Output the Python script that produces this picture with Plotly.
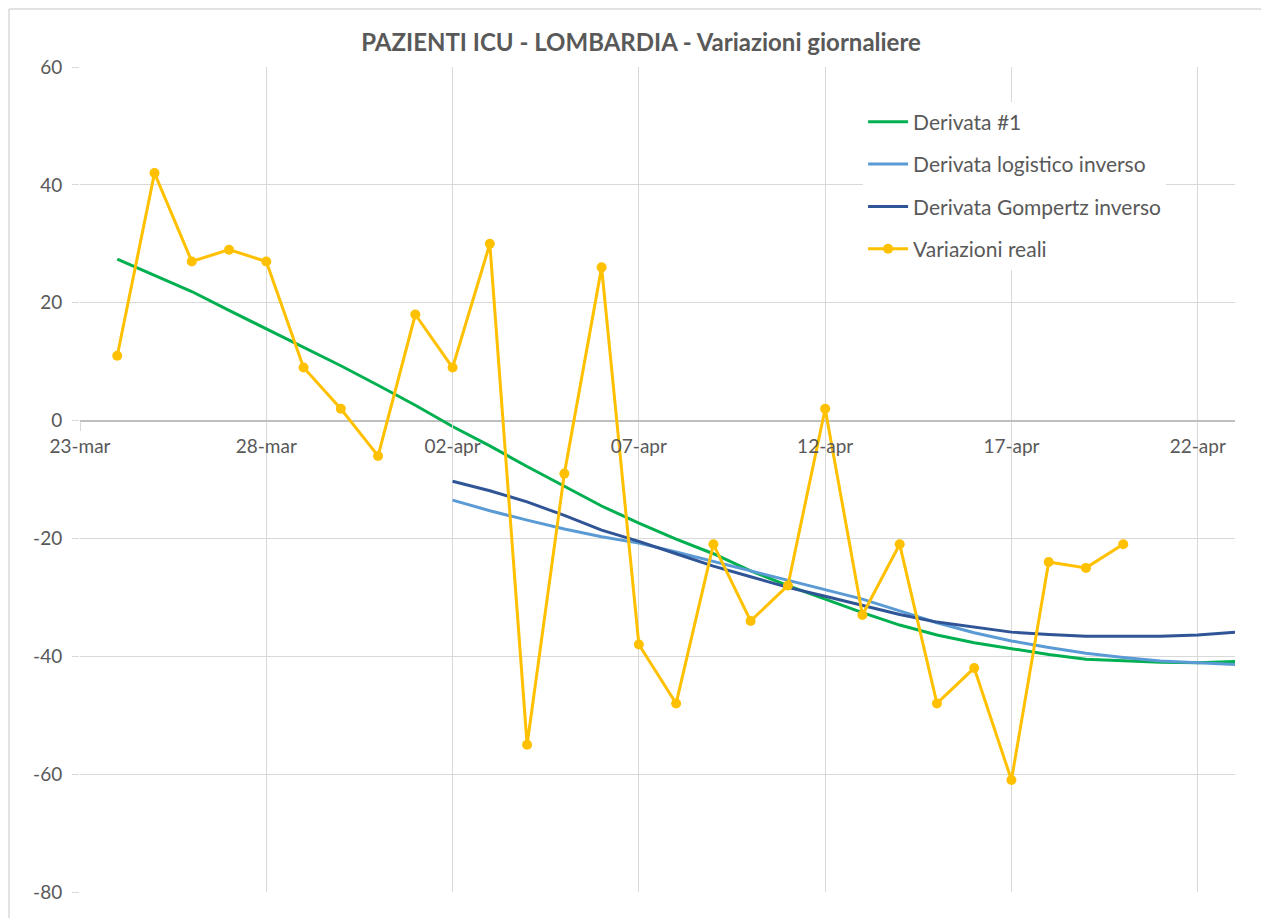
import plotly.graph_objects as go
import pandas as pd

# ---- data ----
dates_all = pd.date_range("2020-03-24", "2020-04-23", freq="D").strftime("%Y-%m-%d").tolist()
dates_fit = pd.date_range("2020-04-02", "2020-04-23", freq="D").strftime("%Y-%m-%d").tolist()
dates_real = pd.date_range("2020-03-24", "2020-04-20", freq="D").strftime("%Y-%m-%d").tolist()

derivata_1 = [27.4, 24.6, 21.9, 18.7, 15.6, 12.4, 9.3, 6.0, 2.6, -1.0, -4.3, -7.8, -11.2, -14.5,
              -17.4, -20.1, -22.6, -25.5, -28.0, -30.3, -32.6, -34.7, -36.4, -37.7, -38.7,
              -39.7, -40.5, -40.8, -41.0, -41.1, -40.9]
derivata_logistico = [-13.5, -15.3, -16.9, -18.4, -19.7, -20.8, -22.3, -23.9, -25.5, -27.0,
                      -28.6, -30.3, -32.3, -34.3, -36.0, -37.4, -38.5, -39.5, -40.2, -40.8,
                      -41.1, -41.4]
derivata_gompertz = [-10.3, -11.9, -13.8, -16.1, -18.6, -20.5, -22.6, -24.7, -26.5, -28.3,
                     -29.8, -31.4, -32.9, -34.2, -35.1, -35.9, -36.3, -36.6, -36.6, -36.6,
                     -36.4, -35.9]
variazioni_reali = [11, 42, 27, 29, 27, 9, 2, -6, 18, 9, 30, -55, -9, 26, -38, -48, -21, -34,
                    -28, 2, -33, -21, -48, -42, -61, -24, -25, -21]

x_tickvals = ["2020-03-23", "2020-03-28", "2020-04-02", "2020-04-07", "2020-04-12",
              "2020-04-17", "2020-04-22"]
x_ticktext = ["23-mar", "28-mar", "02-apr", "07-apr", "12-apr", "17-apr", "22-apr"]
y_tickvals = [-80, -60, -40, -20, 0, 20, 40, 60]
y_ticktext = ["-80", "-60", "-40", "-20", "0", "20", "40", "60"]

FONT = "Lato"
TXT = "#595959"
GRID = "#d9d9d9"

W, H = 1261, 910
ML, MR, MT, MB = 72, 34, 59, 26
PW, PH = W - ML - MR, H - MT - MB

fig = go.Figure()
fig.add_trace(go.Scatter(x=dates_all, y=derivata_1, mode="lines", name="Derivata #1",
                         line=dict(color="#00B050", width=3), legendgroup="a"))
fig.add_trace(go.Scatter(x=dates_fit, y=derivata_logistico, mode="lines",
                         name="Derivata logistico inverso",
                         line=dict(color="#5B9BD5", width=3), legendgroup="b"))
fig.add_trace(go.Scatter(x=dates_fit, y=derivata_gompertz, mode="lines",
                         name="Derivata Gompertz inverso",
                         line=dict(color="#2F5597", width=3), legendgroup="c"))
fig.add_trace(go.Scatter(x=dates_real, y=variazioni_reali, mode="lines+markers",
                         name="Variazioni reali",
                         line=dict(color="#FFC000", width=3),
                         marker=dict(color="#FFC000", size=10), legendgroup="d"))

fig.update_layout(
    width=W, height=H,
    margin=dict(l=ML, r=MR, t=MT, b=MB),
    paper_bgcolor="white", plot_bgcolor="white",
    font=dict(family=FONT, color=TXT, size=18),
    title=dict(text="<b>PAZIENTI ICU - LOMBARDIA - Variazioni giornaliere</b>",
               x=0.502, xanchor="center", y=1 - 35 / H, yanchor="middle",
               font=dict(family=FONT, size=24, color=TXT)),
    showlegend=True,
    legend=dict(x=0.678, y=0.958, xanchor="left", yanchor="top",
                bgcolor="white", borderwidth=0,
                font=dict(family=FONT, size=21, color=TXT),
                tracegroupgap=12, itemwidth=40),
    xaxis=dict(type="date", range=["2020-03-23", "2020-04-23"],
               tickvals=x_tickvals, ticktext=x_ticktext,
               showgrid=True, gridcolor=GRID, gridwidth=1,
               anchor="free", position=80 / 140,
               showline=False, zeroline=False,
               ticks="outside", ticklen=9, tickcolor=GRID,
               tickfont=dict(family=FONT, size=19, color=TXT)),
    yaxis=dict(range=[-80, 60], tickvals=y_tickvals, ticktext=y_ticktext,
               showgrid=True, gridcolor=GRID, gridwidth=1,
               zeroline=True, zerolinecolor="#bfbfbf", zerolinewidth=1.5,
               ticks="outside", ticklen=7, tickcolor=GRID,
               ticklabelstandoff=6,
               showline=False,
               tickfont=dict(family=FONT, size=19, color=TXT)),
    shapes=[
        dict(type="line", xref="paper", yref="paper", x0=(1 - ML) / PW, x1=1.1,
             y0=(PH + MT - 1) / PH, y1=(PH + MT - 1) / PH, line=dict(color=GRID, width=1.5)),
        dict(type="line", xref="paper", yref="paper", x0=(1 - ML) / PW, x1=(1 - ML) / PW,
             y0=-0.1, y1=(PH + MT - 1) / PH, line=dict(color=GRID, width=1.5)),
    ],
)

fig.write_html("out.html")
